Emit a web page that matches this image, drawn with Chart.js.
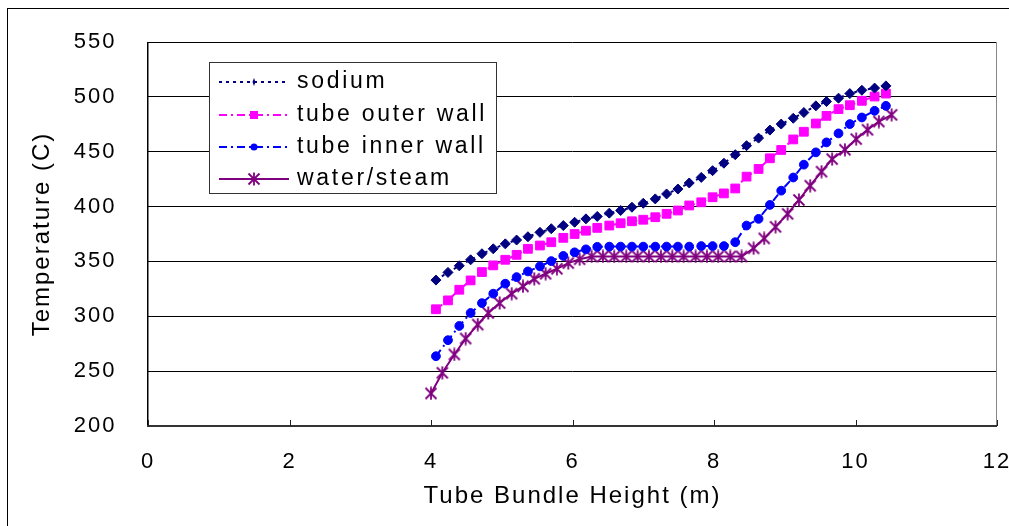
<!DOCTYPE html>
<html>
<head>
<meta charset="utf-8">
<script src="https://cdn.jsdelivr.net/npm/chart.js@4.4.1/dist/chart.umd.min.js"></script>
<style>
  html, body { margin: 0; padding: 0; background: #fff; }
  canvas { display: block; }
</style>
</head>
<body>
<canvas id="tempChart" width="1009" height="526"></canvas>
<script>
// tick labels
const xTickValues = [0, 2, 4, 6, 8, 10, 12];
const yTickValues = [200, 250, 300, 350, 400, 450, 500, 550];

// tube bundle height (m) for sodium / outer wall / inner wall
const heights = [4.07, 4.24, 4.40, 4.56, 4.72, 4.88, 5.05, 5.21, 5.37, 5.54,
  5.70, 5.87, 6.03, 6.19, 6.35, 6.52, 6.68, 6.84, 7.00, 7.17,
  7.33, 7.49, 7.65, 7.82, 7.98, 8.14, 8.30, 8.46, 8.63, 8.79,
  8.95, 9.12, 9.27, 9.44, 9.59, 9.76, 9.92, 10.09, 10.27, 10.43];

const sodium = [333, 340, 346, 351.5, 357, 361.5, 366, 369.5, 372.5, 376.5,
  379.8, 382.7, 385.7, 388.8, 391, 394, 396.4, 399.4, 403, 407,
  411.5, 416, 421.5, 426.6, 432.7, 439.5, 447.3, 455.5, 462.4, 469.7,
  475.2, 480.5, 485.7, 491.8, 495.7, 498.8, 503, 506, 508, 510];

const outerWall = [306.4, 314.5, 324.2, 332.7, 340.3, 346.4, 351.5, 356, 361.5, 364.5,
  367.5, 371.5, 375, 378, 380.6, 382.7, 384.8, 386.6, 388, 390.3,
  393.4, 396.4, 401, 403.9, 408.5, 412, 416.5, 427.3, 434.3, 444,
  451.6, 461.2, 468.2, 475.7, 482.7, 488.8, 492.4, 496.4, 500.3, 503];

const innerWall = [263.6, 278.2, 291.2, 303, 312, 320.6, 329.7, 335.7, 340.9, 345.5,
  350.3, 355, 358.3, 361, 363.3, 363.5, 363.5, 363.5, 363.5, 363.5,
  363.5, 363.5, 363.5, 364, 364, 364, 367.5, 382.7, 388.8, 401.5,
  414.5, 426.5, 438.2, 449.4, 458.5, 466.7, 475.2, 481.2, 487.3, 491.8];

// water/steam has its own heights
const waterHeights = [4.00, 4.16, 4.33, 4.49, 4.66, 4.81, 4.97, 5.14, 5.30, 5.46,
  5.62, 5.78, 5.94, 6.10, 6.27, 6.43, 6.59, 6.76, 6.92, 7.08,
  7.25, 7.41, 7.57, 7.74, 7.90, 8.06, 8.23, 8.39, 8.56, 8.71,
  8.87, 9.04, 9.20, 9.36, 9.52, 9.67, 9.85, 10.01, 10.17, 10.33, 10.51];

const waterSteam = [229.7, 248.5, 265.2, 279.7, 292.4, 303, 312.1, 320.6, 327.3, 334.2,
  338.8, 343.3, 348.5, 352, 354.5, 354.5, 354.5, 354.5, 354.5, 354.5,
  354.5, 354.5, 354.5, 354.5, 354.5, 354.5, 354.5, 354.5, 362, 371,
  381.5, 393.4, 406, 419, 431.8, 443.3, 451.8, 461.5, 470, 477.5, 483.6];

const FONT = "'Liberation Sans', Arial, sans-serif";

function toPoints(xs, ys) {
  return xs.map((x, i) => ({ x: x, y: ys[i] }));
}

// excel style "*" marker
function makeStar(color) {
  const c = document.createElement('canvas');
  c.width = 14; c.height = 14;
  const g = c.getContext('2d');
  g.strokeStyle = color;
  g.lineWidth = 1.8;
  g.beginPath();
  g.moveTo(1.5, 1.5); g.lineTo(12.5, 12.5);
  g.moveTo(12.5, 1.5); g.lineTo(1.5, 12.5);
  g.moveTo(7, 0.5); g.lineTo(7, 13.5);
  g.stroke();
  return c;
}
const starMarker = makeStar('#800080');

// letter spacing like the excel export
const spacing = {
  id: 'spacing',
  beforeUpdate(chart) { chart.ctx.letterSpacing = '2px'; },
  beforeDraw(chart) { chart.ctx.letterSpacing = '2px'; }
};

// plot frame, axis lines and inside ticks
const frame = {
  id: 'frame',
  beforeDatasetsDraw(chart) {
    const { ctx, chartArea: a, scales } = chart;
    ctx.save();
    ctx.strokeStyle = '#888';
    ctx.lineWidth = 1;
    ctx.beginPath();
    ctx.moveTo(a.right - 0.5, a.top);
    ctx.lineTo(a.right - 0.5, a.bottom);
    ctx.stroke();
    ctx.fillStyle = '#000';
    ctx.fillRect(a.left - 1, a.top, 1.5, a.bottom - a.top);
    ctx.fillStyle = '#333';
    ctx.fillRect(a.left - 1, a.bottom - 1, a.right - a.left + 1, 2);
    ctx.strokeStyle = '#222';
    ctx.beginPath();
    xTickValues.forEach(v => {
      const px = Math.round(scales.x.getPixelForValue(v)) + 0.5;
      ctx.moveTo(px, a.bottom);
      ctx.lineTo(px, a.bottom - 6);
    });
    ctx.stroke();
    ctx.restore();
  },
  afterDraw(chart) {
    const ctx = chart.ctx;
    ctx.save();
    ctx.fillStyle = '#000';
    ctx.fillRect(7, 8, 1, chart.height - 8);
    ctx.fillRect(7, 8, chart.width - 7, 1);
    ctx.restore();
  }
};

// boxed legend at the upper left of the plot
const legendBox = {
  id: 'legendBox',
  afterDraw(chart) {
    const ctx = chart.ctx;
    const rows = [82, 115, 147, 179];
    ctx.save();
    ctx.fillStyle = '#fff';
    ctx.fillRect(209, 62, 287, 131);
    ctx.strokeStyle = '#333';
    ctx.lineWidth = 1;
    ctx.strokeRect(209.5, 62.5, 287, 131);
    chart.data.datasets.forEach((ds, i) => {
      const y = rows[i];
      ctx.strokeStyle = ds.borderColor;
      ctx.lineWidth = 2;
      ctx.setLineDash(ds.borderDash || []);
      ctx.beginPath();
      ctx.moveTo(219, y);
      ctx.lineTo(289, y);
      ctx.stroke();
      ctx.setLineDash([]);
      ctx.fillStyle = ds.borderColor;
      const mx = 254;
      if (i === 0) {
        ctx.beginPath();
        ctx.moveTo(mx, y - 4); ctx.lineTo(mx + 1.5, y); ctx.lineTo(mx, y + 4); ctx.lineTo(mx - 1.5, y);
        ctx.closePath();
        ctx.fill();
      } else if (i === 1) {
        ctx.fillRect(mx - 4, y - 4, 8, 8);
      } else if (i === 2) {
        ctx.beginPath();
        ctx.arc(mx, y, 3.5, 0, Math.PI * 2);
        ctx.fill();
      } else {
        ctx.drawImage(starMarker, mx - 7, y - 7);
      }
      ctx.fillStyle = '#000';
      ctx.font = '23px ' + FONT;
      ctx.letterSpacing = '2.7px';
      ctx.textAlign = 'left';
      ctx.textBaseline = 'middle';
      ctx.fillText(ds.label, 297, y);
    });
    ctx.restore();
  }
};

const ctx = document.getElementById('tempChart').getContext('2d');
new Chart(ctx, {
  type: 'line',
  data: {
    datasets: [
      {
        label: 'sodium',
        data: toPoints(heights, sodium),
        borderColor: '#000080',
        backgroundColor: '#000080',
        borderWidth: 2,
        borderDash: [3, 4],
        pointStyle: 'rectRot',
        pointRadius: 5,
        pointBorderWidth: 1
      },
      {
        label: 'tube outer wall',
        data: toPoints(heights, outerWall),
        borderColor: '#FF00FF',
        backgroundColor: '#FF00FF',
        borderWidth: 2,
        borderDash: [8, 4, 2, 4],
        pointStyle: 'rect',
        pointRadius: 6.2,
        pointBorderWidth: 1
      },
      {
        label: 'tube inner wall',
        data: toPoints(heights, innerWall),
        borderColor: '#0000FF',
        backgroundColor: '#0000FF',
        borderWidth: 2,
        borderDash: [8, 4, 2, 4],
        pointStyle: 'circle',
        pointRadius: 4.4,
        pointBorderWidth: 1
      },
      {
        label: 'water/steam',
        data: toPoints(waterHeights, waterSteam),
        borderColor: '#800080',
        backgroundColor: '#800080',
        borderWidth: 2,
        pointStyle: starMarker,
        pointRadius: 7
      }
    ]
  },
  options: {
    responsive: false,
    animation: false,
    layout: { padding: { top: 42, right: 12, left: 0, bottom: 0 } },
    elements: { line: { tension: 0 } },
    scales: {
      x: {
        type: 'linear',
        min: xTickValues[0],
        max: xTickValues[xTickValues.length - 1],
        afterBuildTicks: s => { s.ticks = xTickValues.map(v => ({ value: v })); },
        afterFit: s => { s.height = 100; s.paddingLeft = 0; s.paddingRight = 0; },
        grid: { drawOnChartArea: false, drawTicks: false },
        border: { display: false },
        ticks: { color: '#000', padding: 22.5, maxRotation: 0, font: { family: FONT, size: 22 } },
        title: {
          display: true,
          text: 'Tube Bundle Height (m)',
          color: '#000',
          font: { family: FONT, size: 24 },
          padding: { top: 0, bottom: 15.6 }
        }
      },
      y: {
        min: yTickValues[0],
        max: yTickValues[yTickValues.length - 1],
        afterBuildTicks: s => { s.ticks = yTickValues.map(v => ({ value: v })); },
        afterFit: s => { s.width = 148; s.paddingTop = 0; s.paddingBottom = 0; },
        grid: { color: '#000', lineWidth: 1, drawTicks: false },
        border: { display: false },
        ticks: { color: '#000', padding: 31.5, font: { family: FONT, size: 22 } },
        title: {
          display: true,
          text: 'Temperature (C)',
          color: '#000',
          font: { family: FONT, size: 24 },
          padding: { top: 27.6, bottom: 0 }
        }
      }
    },
    plugins: {
      legend: { display: false },
      tooltip: { enabled: false }
    }
  },
  plugins: [spacing, frame, legendBox]
});
</script>
</body>
</html>
